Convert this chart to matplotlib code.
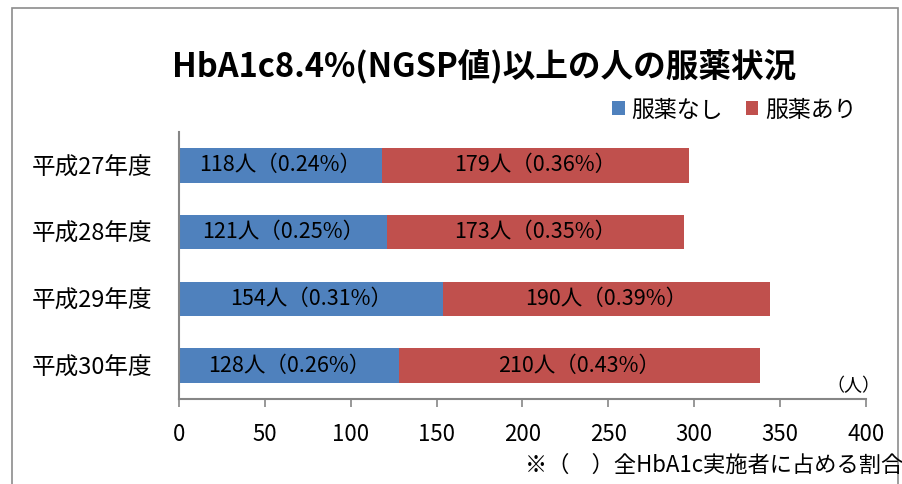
import matplotlib
matplotlib.use('Agg')
import matplotlib.pyplot as plt
from matplotlib.patches import Rectangle
import numpy as np

plt.rcParams['font.family'] = ['Noto Sans CJK JP', 'DejaVu Sans']

# ---------- データ ----------
years = ['平成27年度', '平成28年度', '平成29年度', '平成30年度']
no_med = [118, 121, 154, 128]
with_med = [179, 173, 190, 210]
pct_no_med = ['0.24', '0.25', '0.31', '0.26']
pct_with_med = ['0.36', '0.35', '0.39', '0.43']
names = ['服薬なし', '服薬あり']
colors = ['#4F81BD', '#C0504D']

W, H = 903, 484
fig = plt.figure(figsize=(W / 100, H / 100), dpi=100)
ax = fig.add_axes([179 / W, 1 - 399 / H, (866 - 179) / W, (399 - 132) / H])

y = np.arange(len(years))
b1 = ax.barh(y, no_med, height=0.52, color=colors[0], label=names[0])
b2 = ax.barh(y, with_med, left=no_med, height=0.52, color=colors[1], label=names[1])

for i in range(len(years)):
    ax.text(no_med[i] / 2, y[i], '{}人（{}%）'.format(no_med[i], pct_no_med[i]),
            ha='center', va='center', fontsize=15.5, color='black')
    ax.text(no_med[i] + with_med[i] / 2, y[i], '{}人（{}%）'.format(with_med[i], pct_with_med[i]),
            ha='center', va='center', fontsize=15.5, color='black')

ax.set_xlim(0, 400)
ax.set_ylim(3.5, -0.5)
ax.set_xticks(range(0, 401, 50))
ax.set_yticks(y)
ax.set_yticklabels(years)
ax.tick_params(axis='x', length=6, width=1.2, color='#868686', pad=11, labelsize=16)
ax.tick_params(axis='y', length=0, pad=19, labelsize=17)
for s in ['top', 'right']:
    ax.spines[s].set_visible(False)
for s in ['left', 'bottom']:
    ax.spines[s].set_color('#868686')
    ax.spines[s].set_linewidth(1.5)

fig.text(484 / W, 1 - 67 / H, 'HbA1c8.4%(NGSP値)以上の人の服薬状況',
         ha='center', va='center', fontsize=23.5, fontweight='bold')
fig.legend(handles=[b1, b2], loc='center left', bbox_to_anchor=(612 / W, 1 - 110 / H),
           ncol=2, frameon=False, fontsize=16.5, handlelength=0.55, handleheight=0.55,
           handletextpad=0.3, columnspacing=1.0, borderaxespad=0, borderpad=0)
fig.text(880 / W, 1 - 386 / H, '（人）', ha='right', va='center', fontsize=13)
fig.text(903 / W, 1 - 465 / H, '※（　）全HbA1c実施者に占める割合',
         ha='right', va='center', fontsize=16)

fig.add_artist(Rectangle((12 / W, -0.1), (898 - 12) / W, 1.1 - 8 / H,
                         transform=fig.transFigure, fill=False,
                         edgecolor='#8c8c8c', linewidth=1.2))

fig.savefig('out.png', dpi=100)
